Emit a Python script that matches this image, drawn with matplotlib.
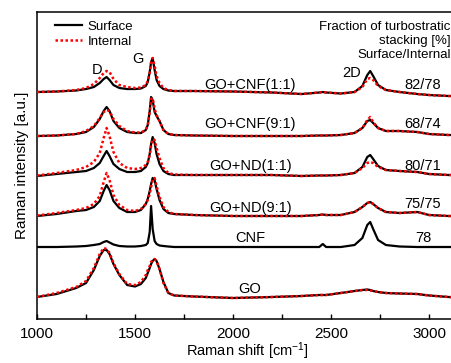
import matplotlib
matplotlib.use('Agg')
import matplotlib.pyplot as plt
from matplotlib.ticker import MultipleLocator

plt.rcParams['font.family'] = ['Liberation Sans', 'DejaVu Sans']
plt.rcParams['mathtext.default'] = 'regular'

# Raman shift grid [cm-1]
shift = [1000, 1100, 1200, 1250, 1290, 1320, 1340, 1355, 1370, 1390,
         1420, 1460, 1500, 1530, 1555, 1565, 1575, 1582, 1590, 1600,
         1610, 1625, 1645, 1670, 1700, 1800, 2000, 2200, 2350, 2440,
         2458, 2475, 2550, 2620, 2660, 2685, 2700, 2715, 2740, 2780,
         2850, 2940, 3000, 3100, 3200]

samples = ['GO+CNF(1:1)', 'GO+CNF(9:1)', 'GO+ND(1:1)', 'GO+ND(9:1)', 'CNF', 'GO']
fractions = ['82/78', '68/74', '80/71', '75/75', '78', '']
offsets = [227, 183, 143, 103, 72, 22]

# intensities above each spectrum's baseline [a.u.]
cnf11_surf = [0, 0.5, 1.5, 3, 5, 9, 13, 15, 12, 7,
              4, 3, 3, 3.5, 6, 10, 20, 30, 34, 22,
              12, 6, 3, 1.5, 1, 1, 0.5, -0.5, -2, -0.5,
              0, -0.5, -1.5, 0, 6, 17, 21, 16, 7, 2,
              0, -2, -3, -4, -4]
cnf11_int = [0, 0.5, 2, 4, 8, 14, 19, 21, 20, 13,
             7, 5, 4, 4.5, 7, 11, 19, 29, 34, 26,
             16, 9, 4, 2, 1, 1, 0.5, -0.5, -2, -0.5,
             0, -0.5, -1.5, 0, 5, 13, 14, 12, 6, 2,
             0, -2, -3, -4, -4]
cnf91_surf = [0, 0.5, 2, 4, 9, 17, 25, 29, 25, 15,
              8, 4, 3, 3, 6, 11, 25, 39, 36, 24,
              20, 15, 6, 2, 1, 0.5, 0, 0, 0, 0.5,
              0.5, 0.5, 1, 3, 8, 15, 16, 13, 8, 5,
              5, 4, 2, 1, 1]
cnf91_int = [0, 0.5, 2, 5, 10, 18, 24, 26, 25, 17,
             10, 5, 3.5, 3.5, 6, 11, 24, 37, 38, 27,
             21, 15, 6, 2, 1, 0.5, 0, 0, 0, 0.5,
             0.5, 0.5, 1, 3, 8, 16, 19, 14, 8, 5,
             5, 4, 2, 1, 1]
nd11_surf = [0, 2, 4, 5, 8, 13, 20, 25, 20, 12,
             7, 4, 4, 5, 9, 13, 22, 32, 39, 33,
             22, 12, 5, 2, 1, 1, 1, 1, 0, 0.5,
             0.5, 0.5, 1, 3, 9, 19, 21, 17, 10, 6,
             5, 4, 2, 1, 1]
nd11_int = [0.5, 3, 6, 9, 14, 23, 38, 48, 40, 24,
            13, 8, 7, 8, 11, 14, 21, 30, 37, 36,
            28, 18, 8, 3, 1.5, 1, 1, 1, 0, 0.5,
            0.5, 0.5, 1, 3, 8, 13, 14, 13, 9, 6,
            5, 4, 2, 1, 1]
nd91_surf = [0, 2, 5, 6, 9, 15, 25, 31, 26, 15,
             8, 4, 4, 6, 12, 17, 25, 32, 38, 36,
             27, 16, 7, 3, 2, 1, 0, 0, 0, 1,
             1.5, 1, 1, 4, 9, 13, 14, 12, 8, 4,
             3, 4, 1, 0, 0]
nd91_int = [0.5, 3, 6, 8, 12, 20, 34, 43, 36, 21,
            11, 6, 5, 7, 12, 16, 22, 29, 36, 38,
            30, 19, 9, 4, 2, 1, 0, 0, 0, 1,
            1.5, 1, 1, 4, 9, 13, 14, 12, 8, 4,
            3, 4, 1, 0, 0]
cnf_surf = [0, 0, 0.5, 1, 2, 3, 5, 6, 4.5, 2.5,
            1, 0.5, 0.5, 1, 2, 4, 15, 41, 18, 6,
            3, 1.5, 1, 0.5, 0, 0, 0, 0, 0, 0,
            3, 0, 0, 2, 9, 22, 25, 18, 7, 2,
            0.5, 0, 0, 0, 0]
go_surf = [0, 3, 9, 14, 27, 41, 47, 47, 43, 33,
           22, 12, 10.5, 13, 19, 24, 29, 33, 36, 38,
           36, 28, 15, 4, 1.5, 0.5, -1, 0, 1, 2,
           2, 2, 4, 6, 7, 7.5, 7, 6, 5, 4,
           3.5, 3, 1.5, 0, -1]
go_int = [0, 4, 10, 16, 29, 43, 49, 48, 44, 34,
          23, 13, 12, 15, 22, 27, 31, 35, 37, 38,
          36, 28, 14, 4, 1.5, 0.5, -1, 0, 1, 2,
          2, 2, 4, 6, 7, 7, 6.5, 6, 5, 4,
          3.5, 3, 1.5, 0, -1]

surface = [cnf11_surf, cnf91_surf, nd11_surf, nd91_surf, cnf_surf, go_surf]
internal = [cnf11_int, cnf91_int, nd11_int, nd91_int, None, go_int]

fig = plt.figure(figsize=(4.52, 3.63), dpi=100)
ax = fig.add_axes([0.0819, 0.1212, 0.9323, 0.8457])

for i in range(len(samples)):
    s = [v + offsets[i] for v in surface[i]]
    ax.plot(shift, s, color='black', lw=1.6, label='Surface' if i == 0 else None, zorder=2)
for i in range(len(samples)):
    if internal[i] is None:
        continue
    t = [v + offsets[i] for v in internal[i]]
    ax.plot(shift, t, color='red', lw=1.8, ls=(0, (1, 1)),
            label='Internal' if i == 0 else None, zorder=3)

# sample names and turbostratic fractions
label_y = [234, 195, 153, 111, 81, 30]
frac_y = [234, 195, 153, 115, 81, 0]
for i in range(len(samples)):
    ax.text(2087, label_y[i], samples[i], ha='center', va='center', fontsize=10.5)
    if fractions[i]:
        ax.text(2969, frac_y[i], fractions[i], ha='center', va='center', fontsize=10.5)

ax.text(1306, 249, 'D', ha='center', va='center', fontsize=10.5)
ax.text(1515, 260, 'G', ha='center', va='center', fontsize=10.5)
ax.text(2607, 246, '2D', ha='center', va='center', fontsize=10.5)
ax.text(3110, 278, 'Fraction of turbostratic\nstacking [%]\nSurface/Internal',
        ha='right', va='center', multialignment='right', fontsize=9.5)

ax.legend(loc='upper left', bbox_to_anchor=(0.042, 0.972), frameon=False,
          fontsize=9.5, handlelength=2.05, handletextpad=0.45,
          borderpad=0, borderaxespad=0, labelspacing=0.2)

ax.set_xlim(1000, 3150)
ax.set_ylim(0, 307)
ax.xaxis.set_major_locator(MultipleLocator(500))
ax.xaxis.set_minor_locator(MultipleLocator(250))
ax.tick_params(axis='x', which='both', direction='in', length=3.5, width=1,
               labelsize=11, pad=5.5)
ax.set_yticks([])
for sp in ax.spines.values():
    sp.set_linewidth(1.1)
ax.set_xlabel('Raman shift [cm$^{-1}$]', fontsize=10.5, labelpad=0)
ax.set_ylabel('Raman intensity [a.u.]', fontsize=11, labelpad=6)

fig.savefig('out.png', dpi=100)
